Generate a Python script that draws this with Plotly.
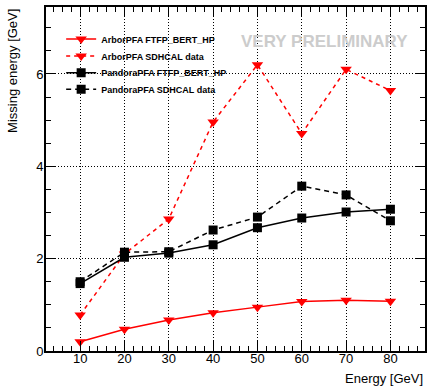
import plotly.graph_objects as go

energy = [10, 20, 30, 40, 50, 60, 70, 80]
arbor_mc = [0.20, 0.47, 0.67, 0.83, 0.95, 1.07, 1.10, 1.08]
arbor_data = [0.78, 2.10, 2.86, 4.96, 6.20, 4.71, 6.10, 5.64]
pandora_mc = [1.46, 2.03, 2.12, 2.30, 2.67, 2.88, 3.01, 3.07]
pandora_data = [1.50, 2.14, 2.15, 2.62, 2.90, 3.57, 3.38, 2.82]

names = ["ArborPFA FTFP_BERT_HP", "ArborPFA SDHCAL data",
         "PandoraPFA FTFP_BERT_HP", "PandoraPFA SDHCAL data"]

fig = go.Figure()
fig.add_trace(go.Scatter(x=energy, y=arbor_mc, name=names[0], mode="lines+markers",
                         legend="legend",
                         line=dict(color="red", width=1.5),
                         marker=dict(symbol="triangle-down", size=10, color="red")))
fig.add_trace(go.Scatter(x=energy, y=arbor_data, name=names[1], mode="lines+markers",
                         legend="legend2",
                         line=dict(color="red", width=1.5, dash="4px,4px"),
                         marker=dict(symbol="triangle-down", size=10, color="red")))
fig.add_trace(go.Scatter(x=energy, y=pandora_mc, name=names[2], mode="lines+markers",
                         legend="legend3",
                         line=dict(color="black", width=1.5),
                         marker=dict(symbol="square", size=9, color="black")))
fig.add_trace(go.Scatter(x=energy, y=pandora_data, name=names[3], mode="lines+markers",
                         legend="legend4",
                         line=dict(color="black", width=1.5, dash="5px,4px"),
                         marker=dict(symbol="square", size=9, color="black")))

axis_common = dict(
    showline=True, linecolor="black", linewidth=2, mirror="allticks",
    ticks="inside", ticklen=10, tickwidth=1, tickcolor="black",
    showgrid=True, gridcolor="black", griddash="1px,2px", gridwidth=1,
    zeroline=False,
    tickfont=dict(family="Liberation Sans, Arial", size=13, color="black"),
)

fig.update_xaxes(range=[2.3, 87.8], tickvals=energy, ticklabelstandoff=-6, **axis_common,
                 minor=dict(dtick=2, ticklen=5, ticks="inside", tickcolor="black", showgrid=False))
fig.update_yaxes(range=[0, 7.45], dtick=2, tick0=0, ticklabelstandoff=-2, **axis_common,
                 minor=dict(dtick=0.5, ticklen=5, ticks="inside", tickcolor="black", showgrid=False))

plot_left, plot_right = 46, 427
plot_top, plot_bottom = 7, 351
def py2paper(py):
    return (plot_bottom - py) / (plot_bottom - plot_top)
def px2paper(px):
    return (px - plot_left) / (plot_right - plot_left)

legend_font = dict(family="Liberation Sans, Arial", size=9, color="black", weight="bold")
def leg(py):
    return dict(x=0.04, y=py2paper(py), xanchor="left", yanchor="middle",
                bgcolor="rgba(0,0,0,0)", itemwidth=30, font=legend_font,
                borderwidth=0)

fig.update_layout(
    width=429, height=387,
    margin=dict(l=46, r=2, t=7, b=36),
    paper_bgcolor="white", plot_bgcolor="white",
    font=dict(family="Liberation Sans, Arial", color="black"),
    showlegend=True,
    legend=leg(39),
    legend2=leg(56),
    legend3=leg(72.7),
    legend4=leg(89.3),
    shapes=[dict(type="rect", xref="paper", yref="paper",
                 x0=px2paper(61), x1=px2paper(213), y0=py2paper(100), y1=py2paper(27),
                 fillcolor="white", line=dict(width=0), layer="between")],
    annotations=[
        dict(text="VERY PRELIMINARY", x=px2paper(326), y=py2paper(42), xref="paper", yref="paper",
             xanchor="center", yanchor="middle",
             showarrow=False, font=dict(family="Liberation Sans, Arial", size=17,
                                        color="#cccccc", weight="bold")),
        dict(text="Missing energy [GeV]", x=-0.09, y=1.0, xref="paper", yref="paper",
             showarrow=False, textangle=-90, xanchor="center", yanchor="top",
             font=dict(size=13)),
        dict(text="Energy [GeV]", x=1, y=py2paper(388), xref="paper", yref="paper",
             showarrow=False, xanchor="right", yanchor="bottom", font=dict(size=13)),
    ],
)

fig.write_html("out.html")
